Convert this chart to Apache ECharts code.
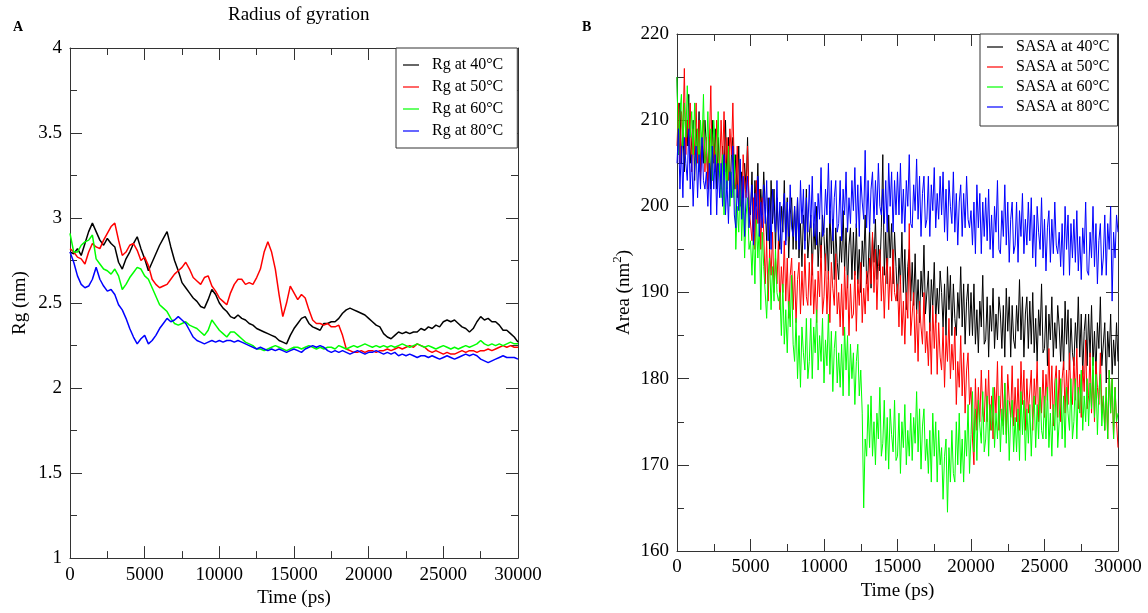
<!DOCTYPE html>
<html>
<head>
<meta charset="utf-8">
<script src="https://cdn.jsdelivr.net/npm/echarts@6/dist/echarts.min.js"></script>
<style>
html,body{margin:0;padding:0;background:#fff;}
#chart{width:1148px;height:613px;}
</style>
</head>
<body>
<div id="chart"></div>
<script>
// ---- Panel A: Radius of gyration (nm), sampled every 250 ps from 0 to 30000 ps ----
const RG_STEP = 250;
const rg40 = [2.80,2.79,2.82,2.78,2.85,2.92,2.97,2.92,2.87,2.84,2.88,2.85,2.83,2.74,2.70,2.76,2.80,2.85,2.89,2.82,
2.76,2.69,2.74,2.79,2.84,2.88,2.92,2.83,2.75,2.69,2.62,2.59,2.56,2.53,2.51,2.48,2.47,2.52,2.58,2.55,
2.50,2.47,2.45,2.42,2.41,2.43,2.41,2.40,2.38,2.37,2.35,2.34,2.33,2.32,2.31,2.30,2.28,2.27,2.26,2.31,
2.35,2.38,2.41,2.42,2.38,2.36,2.35,2.34,2.38,2.38,2.39,2.39,2.41,2.44,2.46,2.47,2.46,2.45,2.44,2.43,
2.41,2.39,2.37,2.36,2.32,2.30,2.29,2.31,2.33,2.32,2.33,2.32,2.33,2.33,2.35,2.34,2.36,2.35,2.37,2.36,
2.39,2.40,2.39,2.40,2.38,2.36,2.35,2.33,2.35,2.39,2.42,2.40,2.41,2.39,2.39,2.37,2.34,2.34,2.32,2.30,2.27];
const rg50 = [2.82,2.80,2.77,2.76,2.73,2.80,2.85,2.83,2.82,2.87,2.91,2.95,2.97,2.87,2.78,2.80,2.84,2.85,2.81,2.75,
2.77,2.72,2.64,2.61,2.59,2.60,2.61,2.64,2.67,2.69,2.71,2.74,2.70,2.65,2.63,2.61,2.65,2.66,2.60,2.57,
2.53,2.51,2.49,2.56,2.61,2.64,2.64,2.61,2.62,2.61,2.65,2.70,2.80,2.86,2.80,2.70,2.55,2.42,2.50,2.60,
2.56,2.52,2.55,2.53,2.46,2.40,2.38,2.38,2.37,2.38,2.36,2.36,2.37,2.31,2.23,2.22,2.21,2.21,2.22,2.21,
2.22,2.22,2.21,2.22,2.22,2.23,2.22,2.23,2.24,2.23,2.24,2.25,2.24,2.26,2.25,2.24,2.22,2.21,2.22,2.21,
2.20,2.21,2.20,2.20,2.21,2.22,2.21,2.22,2.22,2.21,2.22,2.22,2.23,2.22,2.23,2.24,2.25,2.24,2.25,2.24,2.24];
const rg60 = [2.91,2.80,2.80,2.84,2.86,2.87,2.90,2.76,2.73,2.70,2.69,2.67,2.70,2.66,2.58,2.61,2.65,2.68,2.71,2.70,
2.66,2.64,2.59,2.54,2.49,2.47,2.45,2.41,2.38,2.37,2.38,2.39,2.37,2.36,2.35,2.33,2.31,2.34,2.40,2.37,
2.34,2.32,2.30,2.33,2.33,2.31,2.29,2.27,2.26,2.25,2.23,2.23,2.22,2.23,2.24,2.25,2.24,2.23,2.22,2.23,
2.24,2.24,2.23,2.24,2.25,2.24,2.23,2.24,2.23,2.24,2.24,2.23,2.25,2.24,2.23,2.24,2.25,2.24,2.25,2.26,
2.25,2.24,2.25,2.24,2.25,2.24,2.25,2.24,2.25,2.26,2.25,2.24,2.25,2.26,2.25,2.24,2.25,2.24,2.23,2.24,
2.25,2.24,2.23,2.24,2.23,2.24,2.25,2.24,2.25,2.26,2.28,2.26,2.25,2.26,2.25,2.26,2.25,2.26,2.27,2.26,2.26];
const rg80 = [2.80,2.74,2.66,2.61,2.59,2.60,2.64,2.71,2.64,2.60,2.57,2.58,2.55,2.49,2.46,2.41,2.35,2.30,2.26,2.29,
2.31,2.26,2.28,2.31,2.35,2.38,2.41,2.39,2.40,2.42,2.40,2.38,2.34,2.30,2.28,2.27,2.26,2.27,2.28,2.27,
2.28,2.27,2.28,2.28,2.27,2.28,2.27,2.26,2.25,2.24,2.23,2.24,2.23,2.22,2.23,2.22,2.23,2.22,2.21,2.22,
2.23,2.22,2.21,2.23,2.24,2.25,2.24,2.25,2.24,2.22,2.21,2.22,2.21,2.22,2.21,2.20,2.21,2.22,2.21,2.20,
2.21,2.21,2.22,2.21,2.20,2.21,2.20,2.21,2.19,2.20,2.19,2.20,2.19,2.18,2.19,2.19,2.18,2.19,2.18,2.17,
2.18,2.19,2.18,2.17,2.18,2.19,2.20,2.19,2.20,2.19,2.17,2.16,2.15,2.16,2.17,2.18,2.19,2.18,2.18,2.18,2.17];

// ---- Panel B: SASA (nm^2), sampled every 100 ps from 0 to 30000 ps ----
const SASA_STEP = 100;
const sasa40 = [
215,206,212,205,209,204,210,207,213,205, 205,210,203,209,206,211,204,208,205,210,
207,203,208,202,210,205,209,202,208,204, 202,207,204,210,203,208,201,206,208,202,
206,201,207,200,204,199,205,202,208,200, 199,204,197,203,200,205,198,202,199,204,
200,196,201,195,203,198,202,195,201,197, 195,200,197,203,196,201,194,199,201,195,
200,195,201,194,198,193,199,196,202,194, 194,199,192,198,195,200,193,197,194,199,
196.5,192.5,197.5,191.5,199.5,194.5,198.5,191.5,197.5,193.5, 191.5,196.5,193.5,199.5,192.5,197.5,190.5,195.5,197.5,191.5,
197,192,198,191,195,190,196,193,199,191, 192.5,197.5,190.5,196.5,193.5,198.5,191.5,195.5,192.5,197.5,
206,192,197,191,199,194,198,191,197,193, 189,194,191,197,190,195,188,193,195,189,
193.5,188.5,194.5,187.5,191.5,186.5,192.5,189.5,195.5,187.5, 187.5,192.5,185.5,191.5,188.5,193.5,186.5,190.5,187.5,192.5,
190,186,191,185,193,188,192,185,191,187, 185,190,187,193,186,191,184,189,191,185,
190,185,191,184,188,183,189,186,192,184, 184.5,189.5,182.5,188.5,185.5,190.5,183.5,187.5,184.5,189.5,
187.5,183.5,188.5,182.5,190.5,185.5,189.5,182.5,188.5,184.5, 183.5,188.5,185.5,191.5,184.5,189.5,182.5,187.5,189.5,183.5,
189,184,190,183,187,182,188,185,191,183, 183.5,188.5,181.5,187.5,184.5,189.5,182.5,186.5,183.5,188.5,
186,182,187,181,189,184,188,181,187,183, 181.5,186.5,183.5,189.5,182.5,187.5,180.5,185.5,187.5,181.5,
187.5,182.5,188.5,181.5,185.5,180.5,186.5,183.5,189.5,181.5, 181.5,186.5,179.5,185.5,182.5,187.5,180.5,184.5,181.5,186.5,
182];
const sasa50 = [
207,212,205,211,208,216,206,210,207,212, 204,209,206,212,205,210,203,208,210,204,
208,202,207,214,203,208,204,210,205,204, 210,205,211,204,208,203,209,206,212,204,
202,207,200,205,199,206,203,201,207,200, 200,196,201,195,203,198,202,195,201,197,
191,196,189,195,192,197,190,194,191,196, 188,193,190,196,189,194,187,192,194,188,
192.5,186.5,191.5,193.5,187.5,192.5,188.5,194.5,189.5,188.5, 193.5,188.5,194.5,187.5,191.5,186.5,192.5,189.5,195.5,187.5,
189.5,194.5,187.5,192.5,186.5,193.5,190.5,188.5,194.5,187.5, 190,186,191,185,193,188,192,185,191,187,
187.5,192.5,185.5,191.5,188.5,193.5,186.5,190.5,187.5,192.5, 189,194,191,197,190,195,188,193,195,189,
193,187,192,194,188,193,189,195,190,189, 191,186,192,185,189,184,190,187,198,185,
185,190,183,188,182,189,186,184,190,183, 185.5,181.5,186.5,180.5,188.5,183.5,187.5,180.5,186.5,182.5,
181,186,179,185,182,187,180,184,181,186, 177,182,179,185,178,183,176,181,183,177,
179,173,170,180,174,179,175,181,176,175, 180,175,181,174,178,173,179,176,182,174,
176.5,181.5,174.5,179.5,173.5,180.5,177.5,175.5,181.5,174.5, 179,175,180,174,182,177,181,174,180,176,
176,181,174,180,177,182,175,179,176,181, 175.5,180.5,177.5,183.5,176.5,181.5,174.5,179.5,181.5,175.5,
181,175,180,182,176,181,177,183,178,177, 182.5,177.5,183.5,176.5,180.5,175.5,181.5,178.5,184.5,176.5,
178,183,176,181,175,182,179,177,183,176, 178,174,179,173,181,176,180,173,179,175,
172];
const sasa60 = [
215,206,211,213,207,212,208,214,209,208, 211,206,212,205,209,204,210,207,213,205,
206,211,204,209,203,210,207,205,211,204, 201,206,199,205,202,207,200,204,201,206,
195,200,197,203,196,201,194,199,201,195, 196,192,197,191,199,194,198,188,197,193,
193,187,192,194,188,193,189,195,190,189, 190,185,191,184,188,183,189,186,192,184,
182,187,180,185,179,186,183,181,187,180, 182,187,180,186,183,188,181,185,182,187,
179.5,184.5,181.5,187.5,180.5,185.5,178.5,183.5,185.5,179.5, 183,179,184,178,186,181,185,178,184,180,
183,177,182,184,178,181,176,165,173,171, 177,172,178,171,175,170,176,173,179,171,
172.5,177.5,170.5,175.5,169.5,176.5,173.5,171.5,177.5,170.5, 171,176,169,175,172,177,170,174,171,176,
170.5,175.5,172.5,178.5,171.5,176.5,169.5,174.5,176.5,170.5, 173,169,174,168,176,171,175,168,174,170,
172,166,171,173,164.5,172,168,174,169,168, 175,170,176,169,173,168,174,171,177,169,
173.5,178.5,171.5,176.5,170.5,177.5,174.5,172.5,178.5,171.5, 173,178,171,177,174,179,172,176,173,178,
171.5,176.5,173.5,179.5,172.5,177.5,170.5,175.5,177.5,171.5, 175.5,171.5,176.5,170.5,178.5,173.5,177.5,170.5,176.5,172.5,
177,171,176,178,172,177,173,179,174,173, 178,173,179,172,176,171,177,174,180,172,
175,180,173,178,172,179,176,174,180,173, 175,180,173,179,176,181,174,178,175,180,
174.5,179.5,176.5,182.5,175.5,180.5,173.5,178.5,180.5,174.5, 178,174,179,173,181,176,180,173,179,175,
176];
const sasa80 = [
205,209,202,207,201,208,205,203,209,202, 206,200,205,207,201,206,202,208,203,202,
204,200,205,199,207,202,206,199,205,201, 205,200,206,199,203,198,204,201,207,199,
197.5,202.5,199.5,205.5,198.5,203.5,196.5,201.5,203.5,197.5, 197.5,202.5,195.5,201.5,198.5,203.5,196.5,200.5,197.5,202.5,
198,203,196,201,195,202,199,197,203,196, 200.5,194.5,199.5,201.5,195.5,200.5,196.5,202.5,197.5,196.5,
200,196,201,195,203,198,202,195,201,197, 202.5,197.5,203.5,196.5,200.5,195.5,201.5,198.5,204.5,196.5,
197,202,199,205,198,203,196,201,203,197, 198,203,196,202,199,204,197,201,198,203,
199.5,204.5,197.5,202.5,196.5,203.5,200.5,198.5,206.5,197.5, 203,197,202,204,198,203,199,205,200,199,
202,198,203,197,205,200,204,197,203,199, 204,199,205,198,202,197,203,200,206,198,
197.5,202.5,199.5,205.5,198.5,203.5,196.5,201.5,203.5,197.5, 198.5,203.5,196.5,202.5,199.5,204.5,197.5,201.5,198.5,203.5,
199,204,197,202,196,203,200,198,204,197, 201.5,195.5,200.5,202.5,196.5,201.5,197.5,203.5,198.5,197.5,
199.5,195.5,200.5,194.5,202.5,197.5,201.5,194.5,200.5,196.5, 201,196,202,195,199,194,200,197,203,195,
194.5,199.5,196.5,202.5,195.5,200.5,193.5,198.5,200.5,194.5, 195.5,200.5,193.5,199.5,196.5,201.5,194.5,198.5,195.5,200.5,
196,201,194,199,193,200,197,195,201,194, 198.5,192.5,197.5,199.5,193.5,198.5,194.5,200.5,195.5,194.5,
197,193,198,192,200,195,199,192,198,194, 198.5,193.5,199.5,192.5,196.5,191.5,197.5,194.5,200.5,192.5,
192,197,194,200,193,198,191,196,198,192, 194,199,192,198,195,200,189,197,194,199,
197];

const rgNames = ['Rg at 40°C','Rg at 50°C','Rg at 60°C','Rg at 80°C'];
const sasaNames = ['SASA at 40°C','SASA at 50°C','SASA at 60°C','SASA at 80°C'];
const colors = ['#000000','#ff0000','#00ff00','#0000ff'];

function pairs(arr, step){ return arr.map((v,i)=>[i*step, v]); }

const FONT = 'Liberation Serif';
const axisLineStyle = {color:'#333', width:1};

function xAxes(gridIndex){
  return [{
    type:'value', gridIndex, min:0, max:30000, interval:5000, position:'bottom',
    axisLine:{show:true, onZero:false, lineStyle:axisLineStyle},
    axisTick:{show:true, inside:true, length:12, lineStyle:axisLineStyle},
    minorTick:{show:true, splitNumber:2, length:7, lineStyle:axisLineStyle},
    axisLabel:{fontFamily:FONT, fontSize:19, color:'#000', margin:7, formatter:(v)=>String(v)},
    splitLine:{show:false},
    name:'Time (ps)', nameLocation:'middle', nameGap:27,
    nameTextStyle:{fontFamily:FONT, fontSize:19, color:'#000'}
  },{
    type:'value', gridIndex, min:0, max:30000, interval:5000, position:'top',
    axisLine:{show:true, onZero:false, lineStyle:axisLineStyle},
    axisTick:{show:true, inside:true, length:12, lineStyle:axisLineStyle},
    minorTick:{show:true, splitNumber:2, length:7, lineStyle:axisLineStyle},
    axisLabel:{show:false}, splitLine:{show:false}
  }];
}
function yAxes(gridIndex, min, max, interval, name, nameGap, richName){
  return [{
    type:'value', gridIndex, min, max, interval, position:'left',
    axisLine:{show:true, onZero:false, lineStyle:axisLineStyle},
    axisTick:{show:true, inside:true, length:12, lineStyle:axisLineStyle},
    minorTick:{show:true, splitNumber:2, length:7, lineStyle:axisLineStyle},
    axisLabel:{fontFamily:FONT, fontSize:19, color:'#000', margin:8},
    splitLine:{show:false},
    name, nameLocation:'middle', nameGap, nameRotate:90,
    nameTextStyle:Object.assign({fontFamily:FONT, fontSize:19, color:'#000'}, richName ? {rich:richName} : {})
  },{
    type:'value', gridIndex, min, max, interval, position:'right',
    axisLine:{show:true, onZero:false, lineStyle:axisLineStyle},
    axisTick:{show:true, inside:true, length:12, lineStyle:axisLineStyle},
    minorTick:{show:true, splitNumber:2, length:7, lineStyle:axisLineStyle},
    axisLabel:{show:false}, splitLine:{show:false}
  }];
}

const series = [];
[rg40, rg50, rg60, rg80].forEach((arr,i)=>{
  series.push({type:'line', name:rgNames[i], xAxisIndex:0, yAxisIndex:0, data:pairs(arr, RG_STEP),
    symbol:'none', animation:false, lineStyle:{width:1.5, color:colors[i]}, itemStyle:{color:colors[i]}});
});
[sasa40, sasa50, sasa60, sasa80].forEach((arr,i)=>{
  series.push({type:'line', name:sasaNames[i], xAxisIndex:2, yAxisIndex:2, data:pairs(arr, SASA_STEP),
    symbol:'none', animation:false, lineStyle:{width:1, color:colors[i]}, itemStyle:{color:colors[i]}});
});

const legendCommon = {
  orient:'vertical', backgroundColor:'#fff', borderColor:'#333', borderWidth:1, borderRadius:0,
  icon:'rect', itemWidth:16, itemHeight:1.2, align:'left',
  textStyle:{fontFamily:FONT, fontSize:16, color:'#000', padding:[0,0,0,8]}
};

const option = {
  animation:false,
  backgroundColor:'#fff',
  grid:[
    {left:70, right:630, top:48, bottom:47, containLabel:false},
    {left:677, right:30, top:34, bottom:62, containLabel:false}
  ],
  xAxis:[...xAxes(0), ...xAxes(1)],
  yAxis:[...yAxes(0, 1, 4, 0.5, 'Rg (nm)', 40),
         ...yAxes(1, 160, 220, 10, '{a|Area (nm}{s|2}{a|)}', 39, {a:{fontFamily:FONT, fontSize:19, color:'#000'}, s:{fontFamily:FONT, fontSize:13, color:'#000', padding:[0,0,14,0]}})],
  legend:[
    Object.assign({}, legendCommon, {data:rgNames, left:396, top:48, itemGap:6, padding:[9,14,9,7]}),
    Object.assign({}, legendCommon, {data:sasaNames, left:980, top:34, itemGap:4, padding:[5,8,11,7]})
  ],
  graphic:[
    {type:'text', left:228, top:6, style:{text:'Radius of gyration', fontFamily:FONT, fontSize:19, fill:'#000'}},
    {type:'text', left:13, top:20, style:{text:'A', fontFamily:FONT, fontSize:14, fontWeight:'bold', fill:'#000'}},
    {type:'text', left:582, top:20, style:{text:'B', fontFamily:FONT, fontSize:14, fontWeight:'bold', fill:'#000'}}
  ],
  series
};

const chart = echarts.init(document.getElementById('chart'), null, {renderer:'canvas'});
chart.setOption(option);
</script>
</body>
</html>
